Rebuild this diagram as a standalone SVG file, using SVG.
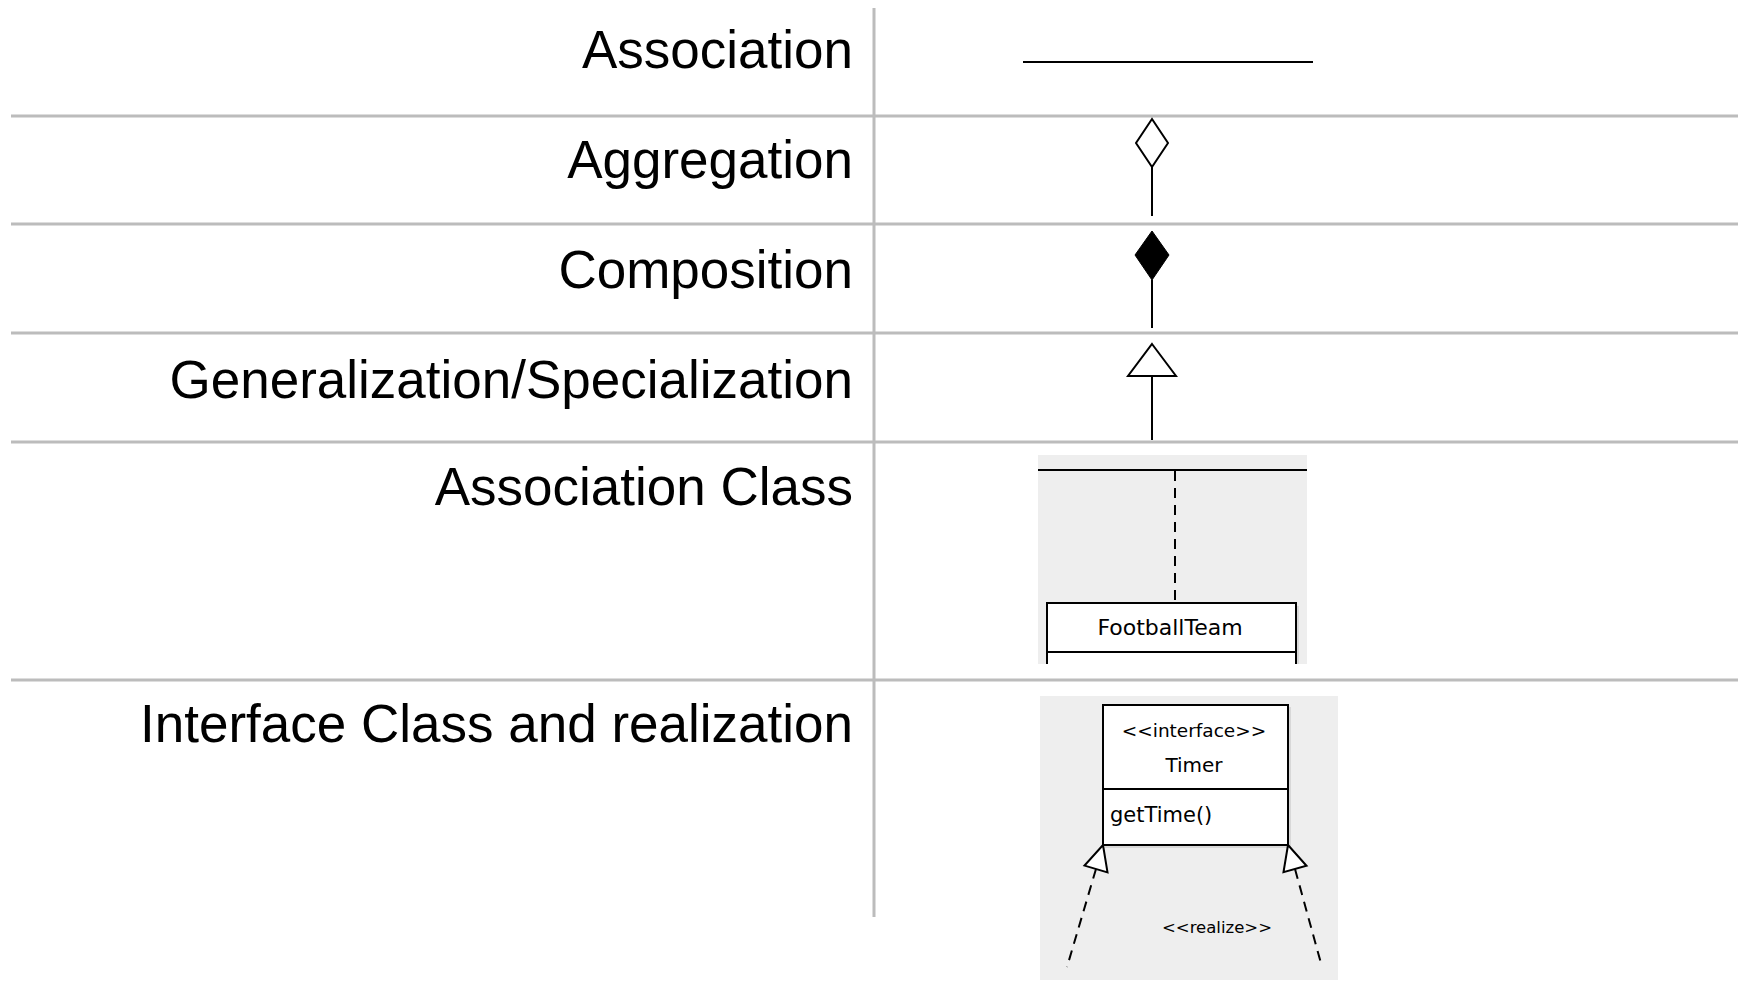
<svg xmlns="http://www.w3.org/2000/svg" width="1740" height="981" viewBox="0 0 1740 981">
<style>
.lbl{font-family:"Liberation Sans",Arial,sans-serif;font-size:53px;fill:#000;text-anchor:end}
.sep{stroke:#bcbcbc;stroke-width:3;fill:none}
.ln{stroke:#000;stroke-width:2;fill:none}
.uml{font-family:"DejaVu Sans",sans-serif;fill:#000}
.panel{fill:#eeeeee}
.box{fill:#fff;stroke:#000;stroke-width:2}
.dash{stroke:#000;stroke-width:2;stroke-dasharray:10,7;fill:none}
</style>
<rect width="1740" height="981" fill="#fff"/>
<g id="grid">
<line class="sep" x1="874" y1="8" x2="874" y2="917"/>
<line class="sep" x1="11" y1="116" x2="1738" y2="116"/>
<line class="sep" x1="11" y1="224" x2="1738" y2="224"/>
<line class="sep" x1="11" y1="333" x2="1738" y2="333"/>
<line class="sep" x1="11" y1="442" x2="1738" y2="442"/>
<line class="sep" x1="11" y1="680" x2="1738" y2="680"/>
</g>
<g id="labels">
<text class="lbl" x="853" y="68">Association</text>
<text class="lbl" x="853" y="178">Aggregation</text>
<text class="lbl" x="853" y="288">Composition</text>
<text class="lbl" x="853" y="398">Generalization/Specialization</text>
<text class="lbl" x="853" y="505">Association Class</text>
<text class="lbl" x="853" y="742">Interface Class and realization</text>
</g>
<g id="connectors">
<line class="ln" x1="1023" y1="62" x2="1313" y2="62"/>
<line class="ln" x1="1152" y1="167" x2="1152" y2="216"/>
<polygon points="1152,119 1168,143 1152,167 1136,143" fill="#fff" stroke="#000" stroke-width="2"/>
<line class="ln" x1="1152" y1="280" x2="1152" y2="328"/>
<polygon points="1152,231 1169,255 1152,280 1135,255" fill="#000" stroke="#000" stroke-width="1"/>
<line class="ln" x1="1152" y1="376" x2="1152" y2="440"/>
<polygon points="1152,344 1176,376 1128,376" fill="#fff" stroke="#000" stroke-width="2"/>
</g>
<g id="assoc-class">
<rect class="panel" x="1038" y="455" width="269" height="209"/>
<line class="ln" x1="1038" y1="470" x2="1307" y2="470"/>
<line class="dash" x1="1175" y1="471" x2="1175" y2="603"/>
<rect x="1049" y="606" width="250" height="60" fill="#d8d8d8"/>
<rect class="box" x="1047" y="603" width="249" height="70"/>
<line class="ln" x1="1047" y1="652" x2="1296" y2="652"/>
<rect x="1038" y="664" width="269" height="12" fill="#fff"/>
<text class="uml" x="1170" y="635" font-size="22" text-anchor="middle">FootballTeam</text>
</g>
<g id="interface">
<rect class="panel" x="1040" y="696" width="298" height="284"/>
<rect x="1105" y="707" width="186" height="141" fill="#d8d8d8"/>
<rect class="box" x="1103" y="705" width="185" height="140"/>
<line class="ln" x1="1103" y1="789" x2="1288" y2="789"/>
<text class="uml" x="1194" y="737" font-size="18.5" text-anchor="middle">&lt;&lt;interface&gt;&gt;</text>
<text class="uml" x="1194" y="772" font-size="20" text-anchor="middle">Timer</text>
<text class="uml" x="1110" y="822" font-size="21">getTime()</text>
<line class="dash" x1="1096" y1="869" x2="1067" y2="967"/>
<polygon points="1103,845 1107.5,872.4 1084.5,865.6" fill="#fff" stroke="#000" stroke-width="2"/>
<line class="dash" x1="1295" y1="869" x2="1322" y2="967"/>
<polygon points="1288,845 1306.5,865.8 1283.5,872.2" fill="#fff" stroke="#000" stroke-width="2"/>
<text class="uml" x="1217" y="933" font-size="16.5" text-anchor="middle">&lt;&lt;realize&gt;&gt;</text>
</g>
</svg>
